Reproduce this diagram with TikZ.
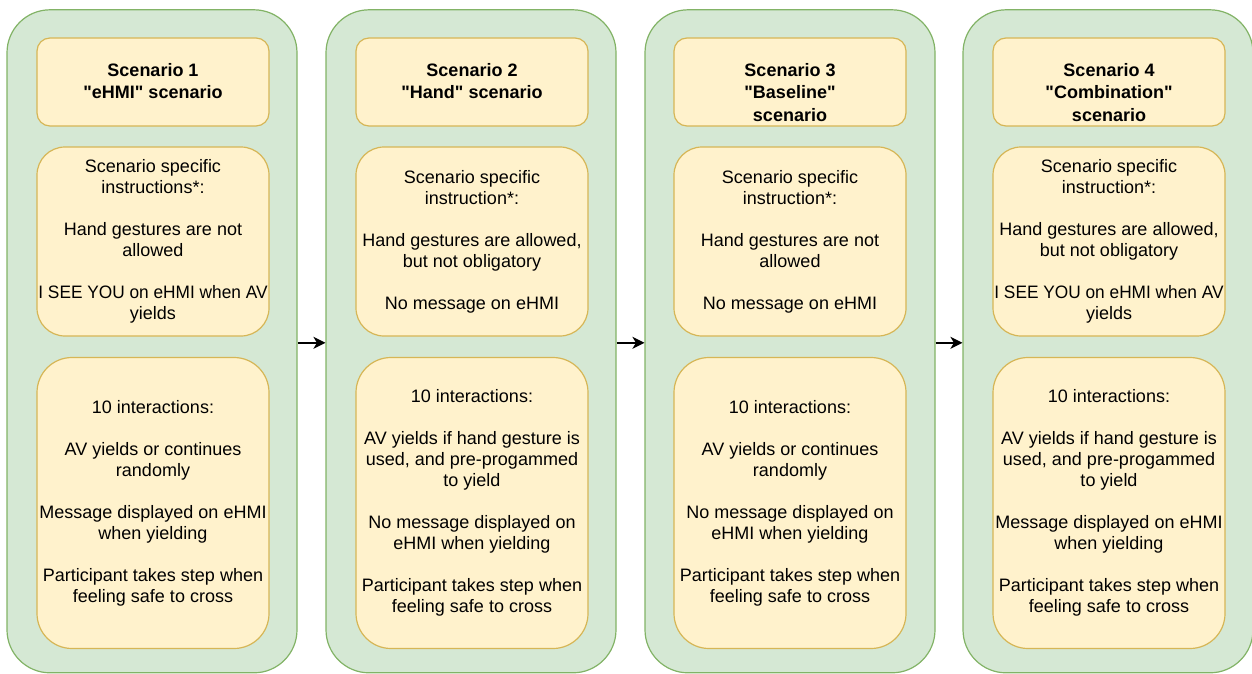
\documentclass[tikz,border=0pt]{standalone}
\usepackage{fontspec}
\setmainfont{Liberation Sans}
\usepackage{xcolor}
\usepackage{graphicx}
\usepackage{tikz}
\usetikzlibrary{positioning,arrows.meta}

\definecolor{stagefill}{HTML}{D5E8D4}
\definecolor{stageline}{HTML}{82B366}
\definecolor{cardfill}{HTML}{FFF2CC}
\definecolor{cardline}{HTML}{D6B656}

\newcommand{\gapline}{\\[21pt]}
\newcommand{\qt}{\textquotedbl}
\newcommand{\tightline}[1]{\scalebox{0.96}[1]{#1}}

\begin{document}
\begin{tikzpicture}[x=1pt,y=-1pt,
    stage/.style={draw=stageline,fill=stagefill,line width=1.2pt,rounded corners=43pt,
        minimum width=290pt,minimum height=663pt,inner sep=0pt},
    card/.style={draw=cardline,fill=cardfill,line width=1.2pt,minimum width=232pt,
        inner ysep=0pt,inner xsep=-5pt,align=center,font=\fontsize{18}{21}\selectfont},
    titlecard/.style={card,minimum height=88pt,rounded corners=13pt},
    titletext/.style={inner sep=0pt,align=center,font=\fontsize{18}{22.5}\selectfont\bfseries},
    rulecard/.style={card,minimum height=189pt,rounded corners=28pt},
    taskcard/.style={card,minimum height=291pt,rounded corners=35pt},
    flow/.style={-{Stealth[length=12pt,width=12pt,inset=3.5pt]},line width=1.4pt}]
    \useasboundingbox (0,0) rectangle (1252,674);

    % the four scenario columns
    \node[stage] (s1) at (152,341.3) {};
    \node[stage] (s2) at (471,341.3) {};
    \node[stage] (s3) at (790,341.3) {};
    \node[stage] (s4) at (1108,341.3) {};

    \draw[flow] ([yshift=-1.5pt]s1.east) -- ([yshift=-1.5pt]s2.west);
    \draw[flow] ([yshift=-1.5pt]s2.east) -- ([yshift=-1.5pt]s3.west);
    \draw[flow] ([yshift=-1.5pt]s3.east) -- ([yshift=-1.5pt]s4.west);

    % scenario 1
    \node[titlecard] (t1) at (153,82) {};
    \node[titletext, below=25.5pt of t1.north] (h1) {Scenario 1\\\qt eHMI\qt{} scenario};
    \node[rulecard] (r1) at (153,241.5) {Scenario specific\\instructions*:\gapline
        Hand gestures are not\\allowed\gapline
        \tightline{I SEE YOU on eHMI when AV}\\yields};
    \node[taskcard] (k1) at (153,503) {10 interactions:\gapline
        AV yields or continues\\randomly\gapline
        Message displayed on eHMI\\when yielding\gapline
        Participant takes step when\\feeling safe to cross};

    % scenario 2
    \node[titlecard] (t2) at (472,82) {};
    \node[titletext, below=25.5pt of t2.north] (h2) {Scenario 2\\\qt Hand\qt{} scenario};
    \node[rulecard] (r2) at (472,241.5) {Scenario specific\\instruction*:\gapline
        Hand gestures are allowed,\\but not obligatory\gapline
        No message on eHMI};
    \node[taskcard] (k2) at (472,503) {10 interactions:\gapline
        AV yields if hand gesture is\\used, and pre-progammed\\to yield\gapline
        No message displayed on\\eHMI when yielding\gapline
        Participant takes step when\\feeling safe to cross};

    % scenario 3
    \node[titlecard] (t3) at (790,82) {};
    \node[titletext, below=25.5pt of t3.north] (h3) {Scenario 3\\\qt Baseline\qt\\scenario};
    \node[rulecard] (r3) at (790,241.5) {Scenario specific\\instruction*:\gapline
        Hand gestures are not\\allowed\gapline
        No message on eHMI};
    \node[taskcard] (k3) at (790,503) {10 interactions:\gapline
        AV yields or continues\\randomly\gapline
        No message displayed on\\eHMI when yielding\gapline
        Participant takes step when\\feeling safe to cross};

    % scenario 4
    \node[titlecard] (t4) at (1109,82) {};
    \node[titletext, below=25.5pt of t4.north] (h4) {Scenario 4\\\qt Combination\qt\\scenario};
    \node[rulecard] (r4) at (1109,241.5) {Scenario specific\\instruction*:\gapline
        Hand gestures are allowed,\\but not obligatory\gapline
        \tightline{I SEE YOU on eHMI when AV}\\yields};
    \node[taskcard] (k4) at (1109,503) {10 interactions:\gapline
        AV yields if hand gesture is\\used, and pre-progammed\\to yield\gapline
        Message displayed on eHMI\\when yielding\gapline
        Participant takes step when\\feeling safe to cross};
\end{tikzpicture}
\end{document}
